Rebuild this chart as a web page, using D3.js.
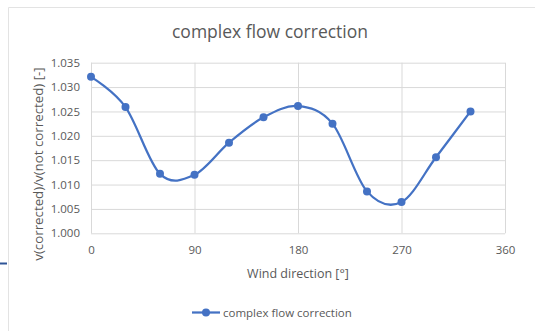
<!DOCTYPE html>
<html>
<head>
<meta charset="utf-8">
<script src="https://cdn.jsdelivr.net/npm/d3@7"></script>
<style>
  html, body { margin: 0; padding: 0; background: #fff; }
  svg { display: block; }
  text { font-family: "Open Sans", "Liberation Sans", sans-serif; }
</style>
</head>
<body>
<svg id="chart" width="535" height="331"></svg>
<script>
// Wind direction (degrees) and the ratio v(corrected)/v(not corrected)
const directions = [0, 30, 60, 90, 120, 150, 180, 210, 240, 270, 300, 330];
const ratios = [1.0321, 1.0259, 1.0122, 1.0120, 1.0186, 1.0238, 1.0261, 1.0225, 1.0086, 1.0064, 1.0156, 1.0250];
const xTicks = [0, 90, 180, 270, 360];
const yTicks = [1.000, 1.005, 1.010, 1.015, 1.020, 1.025, 1.030, 1.035];
const seriesName = "complex flow correction";

const svg = d3.select("#chart");
const blue = "#4472C4";
const grid = "#d9d9d9";
const textCol = "#595959";

// Chart frame
svg.append("line").attr("x1", 8.5).attr("x2", 535).attr("y1", 7.5).attr("y2", 7.5)
  .attr("stroke", "#e3e3e3").attr("stroke-width", 1);
svg.append("line").attr("x1", 8.5).attr("x2", 8.5).attr("y1", 7.5).attr("y2", 331)
  .attr("stroke", "#e3e3e3").attr("stroke-width", 1);
svg.append("line").attr("x1", 0).attr("x2", 7).attr("y1", 263.5).attr("y2", 263.5)
  .attr("stroke", "#2f5597").attr("stroke-width", 2);

const x = d3.scaleLinear().domain([0, 360]).range([91, 505]);
const y = d3.scaleLinear().domain([1.000, 1.035]).range([233.3, 62.7]);

// Gridlines
const gx = svg.append("g").attr("transform", "translate(0,233.3)")
  .call(d3.axisBottom(x).tickValues(xTicks).tickSize(-(233.3 - 62.7)).tickFormat(""));
gx.select(".domain").remove();
gx.selectAll(".tick line").attr("stroke", grid).attr("stroke-width", 1);

const gy = svg.append("g").attr("transform", "translate(91,0)")
  .call(d3.axisLeft(y).tickValues(yTicks).tickSize(-(505 - 91)).tickFormat(""));
gy.select(".domain").remove();
gy.selectAll(".tick line").attr("stroke", grid).attr("stroke-width", 1);

// Tick labels
const yl = svg.append("g").attr("transform", "translate(91,0)")
  .call(d3.axisLeft(y).tickValues(yTicks).tickSize(0).tickPadding(11).tickFormat(d3.format(".3f")));
yl.select(".domain").remove();
yl.selectAll("text").attr("fill", textCol).style("font-size", "11.5px")
  .style("font-family", "'Open Sans', 'Liberation Sans', sans-serif");

const xl = svg.append("g").attr("transform", "translate(0,233.3)")
  .call(d3.axisBottom(x).tickValues(xTicks).tickSize(0).tickPadding(13).tickFormat(d3.format("d")));
xl.select(".domain").remove();
xl.selectAll("text").attr("fill", textCol).style("font-size", "11.5px")
  .style("font-family", "'Open Sans', 'Liberation Sans', sans-serif");

// Title and axis titles
svg.append("text").attr("x", 270).attr("y", 38).attr("text-anchor", "middle")
  .attr("fill", textCol).style("font-size", "17.5px").text("complex flow correction");
svg.append("text").attr("x", 298).attr("y", 278).attr("text-anchor", "middle")
  .attr("fill", textCol).style("font-size", "12.5px").text("Wind direction [°]");
svg.append("text").attr("transform", "translate(43,164) rotate(-90)").attr("text-anchor", "middle")
  .attr("fill", textCol).style("font-size", "13.3px").text("v(corrected)/v(not corrected) [-]");

// Series
const pts = directions.map((d, i) => [d, ratios[i]]);
const line = d3.line().x(d => x(d[0])).y(d => y(d[1])).curve(d3.curveCardinal.tension(0));
svg.append("path").datum(pts).attr("d", line)
  .attr("fill", "none").attr("stroke", blue).attr("stroke-width", 2.25);
svg.append("g").selectAll("circle").data(pts).join("circle")
  .attr("cx", d => x(d[0])).attr("cy", d => y(d[1])).attr("r", 4)
  .attr("fill", blue);

// Legend
const lg = svg.append("g");
lg.append("line").attr("x1", 192).attr("x2", 220).attr("y1", 312.5).attr("y2", 312.5)
  .attr("stroke", blue).attr("stroke-width", 2.25);
lg.append("circle").attr("cx", 206).attr("cy", 312.5).attr("r", 4).attr("fill", blue);
lg.append("text").attr("x", 223).attr("y", 316.5).attr("fill", textCol)
  .style("font-size", "11.5px").text(seriesName);
</script>
</body>
</html>
